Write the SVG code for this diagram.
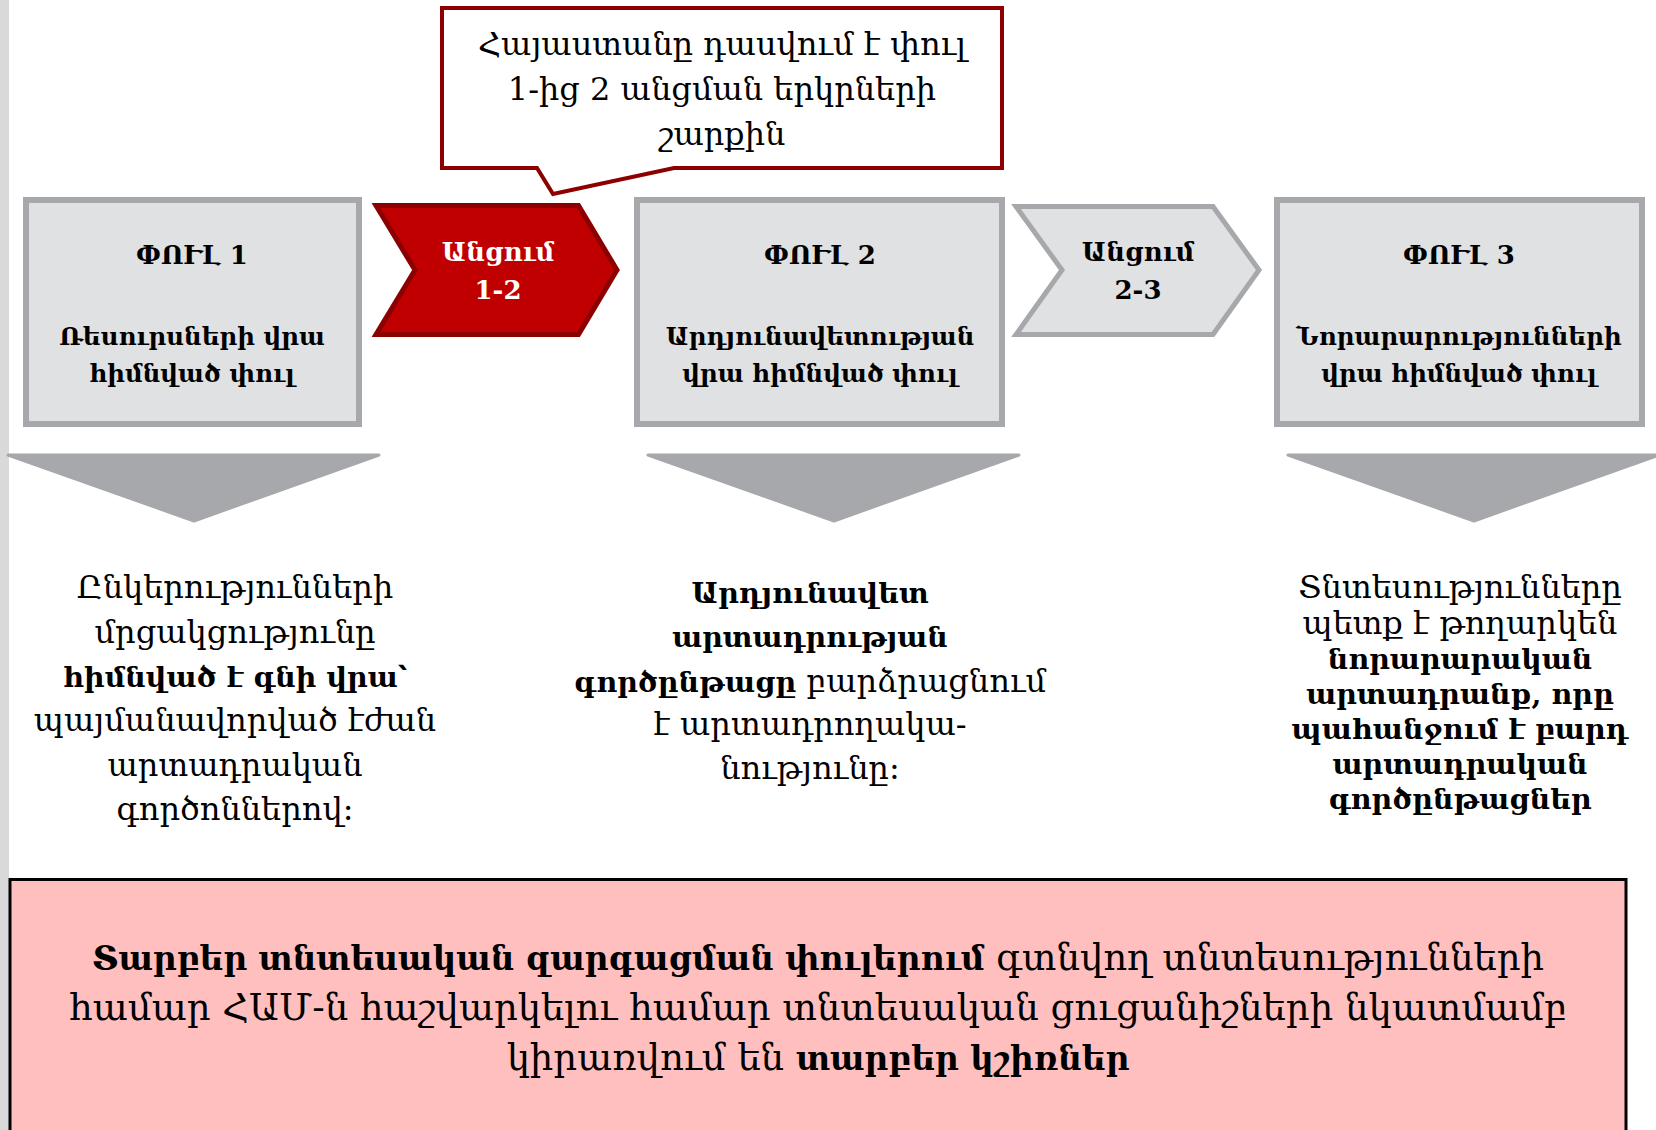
<svg xmlns="http://www.w3.org/2000/svg" width="1656" height="1130" viewBox="0 0 1656 1130">
<style>
text{font-family:"DejaVu Serif","DejaVu Sans",serif;fill:#000;text-anchor:middle}
.box{fill:#e0e1e3;stroke:#a7a8ab;stroke-width:6}
.ttl{font-size:26px;font-weight:bold}
.dsc{font-size:24.5px;font-weight:bold}
.chev{font-size:26px;font-weight:bold}
.call{font-size:32px}
.body{font-size:32px}
.b{font-weight:bold;font-size:28.5px}
.tri{fill:#a7a8ab;stroke:#a7a8ab;stroke-width:3;stroke-linejoin:round}
.bot{font-size:37px}
.bb{font-weight:bold;font-size:32.8px}
</style>
<rect x="0" y="0" width="9" height="1130" fill="#d9d9d9"/>
<g id="callout">
<path d="M442,8 H1002 V168 H674 L553,194 L537,168 H442 Z" fill="#fff" stroke="#8c0000" stroke-width="4"/>
<text class="call" x="722" y="55">Հայաստանը դասվում է փուլ</text>
<text class="call" x="722" y="100">1-ից 2 անցման երկրների</text>
<text class="call" x="722" y="145">շարքին</text>
</g>
<g id="phase1">
<rect class="box" x="26" y="200" width="333" height="224"/>
<text class="ttl" x="192" y="264">ՓՈՒԼ 1</text>
<text class="dsc" x="192" y="345">Ռեսուրսների վրա</text>
<text class="dsc" x="192" y="382">հիմնված փուլ</text>
</g>
<g id="trans12">
<polygon points="376,205.5 578.5,205.5 617,270 578.5,334.5 376,334.5 415,270" fill="#c00000" stroke="#8b0000" stroke-width="5"/>
<text class="chev" x="498" y="261" style="fill:#fff">Անցում</text>
<text class="chev" x="498" y="299" style="fill:#fff">1-2</text>
</g>
<g id="phase2">
<rect class="box" x="637" y="200" width="365" height="224"/>
<text class="ttl" x="820" y="264">ՓՈՒԼ 2</text>
<text class="dsc" x="820" y="345">Արդյունավետության</text>
<text class="dsc" x="820" y="382">վրա հիմնված փուլ</text>
</g>
<g id="trans23">
<polygon points="1016,206.5 1213,206.5 1259,270 1213,334.5 1016,334.5 1062,270" fill="#e0e1e3" stroke="#a7a8ab" stroke-width="5"/>
<text class="chev" x="1138" y="261">Անցում</text>
<text class="chev" x="1138" y="299">2-3</text>
</g>
<g id="phase3">
<rect class="box" x="1277" y="200" width="365" height="224"/>
<text class="ttl" x="1459" y="264">ՓՈՒԼ 3</text>
<text class="dsc" x="1459" y="345">Նորարարությունների</text>
<text class="dsc" x="1459" y="382">վրա հիմնված փուլ</text>
</g>
<g id="connectors">
<polygon class="tri" points="8,455 379,455 194,521"/>
<polygon class="tri" points="648,455 1019,455 834,521"/>
<polygon class="tri" points="1288,455 1659,455 1474,521"/>
</g>
<g id="desc1">
<text class="body" x="235" y="598">Ընկերությունների</text>
<text class="body" x="235" y="643">մրցակցությունը</text>
<text class="body b" x="235" y="687">հիմնված է գնի վրա՝</text>
<text class="body" x="235" y="731">պայմանավորված էժան</text>
<text class="body" x="235" y="776">արտադրական</text>
<text class="body" x="235" y="820">գործոններով։</text>
</g>
<g id="desc2">
<text class="body b" x="810" y="603">Արդյունավետ</text>
<text class="body b" x="810" y="647">արտադրության</text>
<text class="body" x="810" y="692"><tspan class="b">գործընթացը</tspan> բարձրացնում</text>
<text class="body" x="810" y="735">է արտադրողակա-</text>
<text class="body" x="810" y="779">նությունը։</text>
</g>
<g id="desc3">
<text class="body" x="1460" y="598">Տնտեսությունները</text>
<text class="body" x="1460" y="634">պետք է թողարկեն</text>
<text class="body b" x="1460" y="669">նորարարական</text>
<text class="body b" x="1460" y="704">արտադրանք, որը</text>
<text class="body b" x="1460" y="739">պահանջում է բարդ</text>
<text class="body b" x="1460" y="774">արտադրական</text>
<text class="body b" x="1460" y="809">գործընթացներ</text>
</g>
<g id="summary">
<rect x="10" y="879.5" width="1616" height="262" fill="#ffbfbf" stroke="#000" stroke-width="3"/>
<text class="bot" x="818" y="970"><tspan class="bb">Տարբեր տնտեսական զարգացման փուլերում</tspan> գտնվող տնտեսությունների</text>
<text class="bot" x="818" y="1020">համար ՀԱՄ-ն հաշվարկելու համար տնտեսական ցուցանիշների նկատմամբ</text>
<text class="bot" x="818" y="1070">կիրառվում են <tspan class="bb">տարբեր կշիռներ</tspan></text>
</g>
</svg>
